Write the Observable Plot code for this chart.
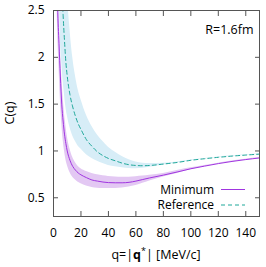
<!DOCTYPE html>
<html><head><meta charset="utf-8">
<script src="https://cdn.jsdelivr.net/npm/d3@7"></script>
<script src="https://cdn.jsdelivr.net/npm/@observablehq/plot@0.6"></script>
<style>body{margin:0;background:#fff;} svg{font-family:"Open Sans",sans-serif;}</style>
</head><body><div id="chart"></div>
<script>
const xTicks = [0,20,40,60,80,100,120,140];
const yTicks = [0.5,1,1.5,2,2.5];
const seriesNames = ["Minimum","Reference"];
const annotation = "R=1.6fm";

const qMin  = [2,3,4,5,6,7,8,9,10,12,14,16,18,20,24,28,32,36,40,45,50,55,60,65,70,80,90,100,110,120,130,140,150];
const minC  = [3.4,2.55,2.15,1.8,1.5,1.32,1.18,1.08,1.0,0.9,0.835,0.795,0.765,0.745,0.715,0.69,0.678,0.668,0.662,0.66,0.66,0.665,0.678,0.695,0.712,0.742,0.775,0.81,0.838,0.865,0.888,0.908,0.925];
const minHi = [3.8,2.9,2.5,2.1,1.8,1.58,1.4,1.27,1.16,1.02,0.93,0.875,0.835,0.81,0.78,0.76,0.745,0.735,0.728,0.722,0.72,0.72,0.725,0.732,0.74,0.76,0.79,0.82,0.845,0.87,0.893,0.912,0.93];
const minLo = [3.0,2.3,1.9,1.55,1.3,1.12,1.0,0.91,0.85,0.77,0.72,0.69,0.665,0.65,0.625,0.61,0.603,0.6,0.598,0.6,0.605,0.615,0.63,0.655,0.68,0.722,0.76,0.8,0.831,0.86,0.883,0.904,0.92];

const qRef  = [4,5,6,7,8,9,10,12,14,16,18,20,24,28,32,36,40,45,50,55,60,65,70,80,90,100,110,120,130,140,150];
const refC  = [5.0,3.6,2.8,2.45,2.18,1.95,1.8,1.6,1.47,1.37,1.29,1.23,1.12,1.05,0.99,0.95,0.92,0.895,0.87,0.853,0.845,0.842,0.845,0.86,0.877,0.9,0.917,0.932,0.945,0.956,0.966];
const refHi = [12,9,7,5,3.9,3.2,2.75,2.3,2.0,1.8,1.65,1.55,1.38,1.26,1.17,1.1,1.04,0.985,0.94,0.905,0.882,0.87,0.865,0.87,0.883,0.904,0.92,0.935,0.948,0.959,0.969];
const refLo = [2.8,2.2,1.95,1.75,1.6,1.47,1.38,1.25,1.16,1.1,1.05,1.02,0.96,0.92,0.89,0.865,0.845,0.83,0.82,0.812,0.81,0.815,0.825,0.85,0.871,0.896,0.914,0.929,0.942,0.953,0.963];

(function(){
const minData = qMin.map((q,i)=>({q, c:minC[i], lo:minLo[i], hi:minHi[i]}));
const refData = qRef.map((q,i)=>({q, c:refC[i], lo:refLo[i], hi:refHi[i]}));

const colMin = "#a035e0", colMinBand = "#e3c8f3";
const colRef = "#1fa89a", colRefBand = "#d7edf7";
const frameCol = "#555";

const chart = Plot.plot({
  width: 266, height: 267,
  marginTop: 10, marginBottom: 51, marginLeft: 53, marginRight: 7,
  style: {fontFamily: "'Open Sans', sans-serif", fontSize: "12px", color: "#000", background: "#fff"},
  x: {domain: [0,150]},
  y: {domain: [0.3,2.5]},
  marks: [
    Plot.areaY(refData, {x:"q", y1:"lo", y2:"hi", fill:colRefBand, curve:"monotone-x", clip:true}),
    Plot.areaY(minData, {x:"q", y1:"lo", y2:"hi", fill:colMinBand, curve:"monotone-x", clip:true}),
    Plot.line(refData, {x:"q", y:"c", stroke:colRef, strokeWidth:1, strokeDasharray:"4,3", curve:"monotone-x", clip:true}),
    Plot.line(minData, {x:"q", y:"c", stroke:colMin, strokeWidth:1, curve:"monotone-x", clip:true}),
    Plot.axisX(xTicks, {anchor:"bottom", tickSize:0, tickPadding:12, label:null}),
    Plot.axisY(yTicks, {anchor:"left", tickSize:0, tickPadding:9, label:null, tickFormat: d=>String(d)}),
    Plot.axisX(xTicks, {anchor:"bottom", tickSize:-5, text:null, label:null, stroke:frameCol}),
    Plot.axisX(xTicks, {anchor:"top", tickSize:-5, text:null, label:null, stroke:frameCol}),
    Plot.axisY(yTicks, {anchor:"left", tickSize:-5, text:null, label:null, stroke:frameCol}),
    Plot.axisY(yTicks, {anchor:"right", tickSize:-5, text:null, label:null, stroke:frameCol}),
    Plot.frame({stroke:frameCol}),
    Plot.text([annotation], {text:d=>d, frameAnchor:"top-right", dx:-6, dy:19, textAnchor:"end", lineAnchor:"middle", fontSize:12.5})
  ]
});
document.getElementById("chart").appendChild(chart);

const svg = d3.select(chart);
const sx = chart.scale("x"), sy = chart.scale("y");
const x0 = sx.range[0], x1 = sx.range[1];
const yb = sy.range[0], yt = sy.range[1];

const legend = [
  {name: seriesNames[0], color: colMin, dash: null, dy: -26.5},
  {name: seriesNames[1], color: colRef, dash: "4,3", dy: -11}
];
const lg = svg.append("g");
legend.forEach(d => {
  lg.append("text").attr("x", x1-45).attr("y", yb + d.dy).attr("dy","0.35em")
    .attr("text-anchor","end").attr("font-size", 12).attr("fill","#000").text(d.name);
  lg.append("line").attr("x1", x1-38).attr("x2", x1-14).attr("y1", yb + d.dy).attr("y2", yb + d.dy)
    .attr("stroke", d.color).attr("stroke-width",1).attr("stroke-dasharray", d.dash);
});

svg.append("text").attr("transform", `translate(10,${(yt+yb)/2}) rotate(-90)`)
  .attr("text-anchor","middle").attr("dy","0.35em").attr("font-size",12.5).attr("fill","#000").text("C(q)");
const xl = svg.append("text").attr("x",(x0+x1)/2).attr("y", yb+43)
  .attr("text-anchor","middle").attr("font-size",12.5).attr("fill","#000");
xl.append("tspan").text("q=|");
xl.append("tspan").attr("font-weight","bold").text("q");
xl.append("tspan").attr("dy","-5").attr("font-size",9).text("*");
xl.append("tspan").attr("dy","5").text("| [MeV/c]");
})();
</script>
</body></html>
